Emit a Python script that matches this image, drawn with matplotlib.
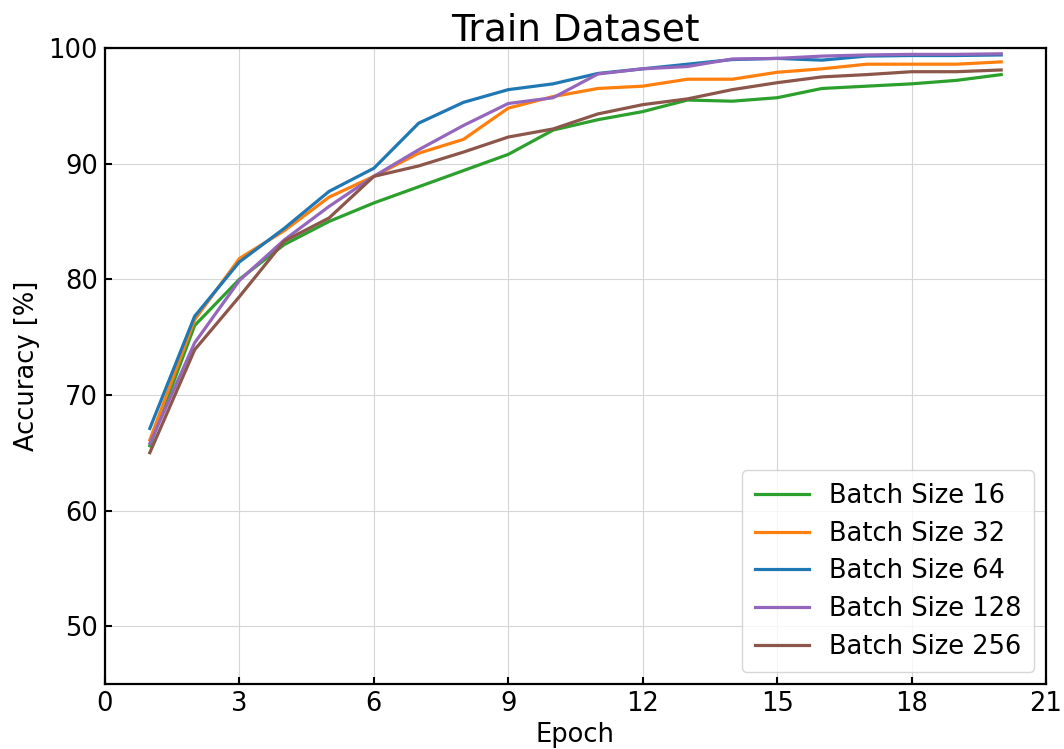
import numpy as np
import matplotlib; matplotlib.use("Agg")
import matplotlib.pyplot as plt

epochs = list(range(1, 21))
acc_16 = [65.6, 76.0, 80.0, 83.0, 85.0, 86.6, 88.0, 89.4, 90.8, 92.9, 93.8, 94.5,
          95.5, 95.4, 95.7, 96.5, 96.7, 96.9, 97.2, 97.7]
acc_32 = [66.1, 76.5, 81.8, 84.2, 87.1, 88.9, 90.9, 92.1, 94.8, 95.8, 96.5, 96.7,
          97.3, 97.3, 97.9, 98.2, 98.6, 98.6, 98.6, 98.8]
acc_64 = [67.1, 76.8, 81.5, 84.4, 87.6, 89.6, 93.5, 95.3, 96.4, 96.9, 97.8, 98.2,
          98.6, 99.0, 99.1, 98.95, 99.3, 99.35, 99.35, 99.4]
acc_128 = [65.8, 74.5, 79.9, 83.4, 86.3, 88.9, 91.2, 93.3, 95.2, 95.7, 97.75, 98.2,
           98.4, 99.05, 99.1, 99.3, 99.4, 99.45, 99.45, 99.5]
acc_256 = [65.0, 73.9, 78.5, 83.3, 85.3, 88.9, 89.8, 91.0, 92.3, 93.0, 94.3, 95.1,
           95.6, 96.4, 97.0, 97.5, 97.7, 97.95, 97.95, 98.1]

series = [("Batch Size 16", acc_16, "tab:green"),
          ("Batch Size 32", acc_32, "tab:orange"),
          ("Batch Size 64", acc_64, "tab:blue"),
          ("Batch Size 128", acc_128, "tab:purple"),
          ("Batch Size 256", acc_256, "tab:brown")]

fig = plt.figure(figsize=(10.64, 7.49), dpi=100)
ax = fig.add_axes([105/1064, 1-684/749, 941/1064, 636/749])
for name, vals, col in series:
    ax.plot(epochs, vals, color=col, lw=2.3, label=name)

ax.set_xlim(0, 21); ax.set_ylim(45, 100)
ax.set_xticks(range(0, 22, 3)); ax.set_yticks(range(50, 101, 10))
ax.grid(True, color="#d6d6d6", lw=0.8)
ax.tick_params(direction="in", labelsize=18.5, width=1.5, length=5, pad=5)
for s in ax.spines.values():
    s.set_linewidth(1.6)
ax.set_xlabel("Epoch", fontsize=18.5, labelpad=4)
ax.set_ylabel("Accuracy [%]", fontsize=18.5, labelpad=6)
ax.set_title("Train Dataset", fontsize=27, pad=5)
ax.legend(loc="lower right", fontsize=18.5, handlelength=2.1, handletextpad=0.8,
          borderpad=0.5, labelspacing=0.45, borderaxespad=0.45)
plt.savefig("out.png", dpi=100)
